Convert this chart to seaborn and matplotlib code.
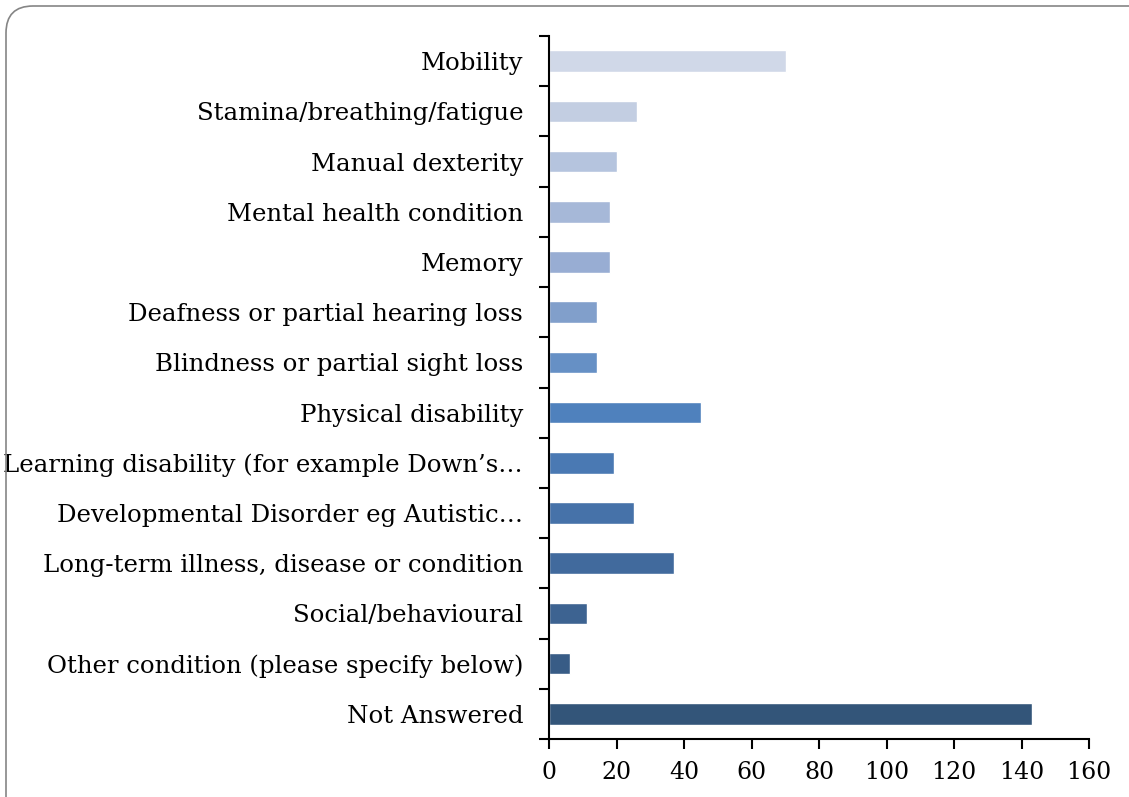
import matplotlib
matplotlib.use('Agg')
import matplotlib.pyplot as plt
import seaborn as sns
import pandas as pd
import numpy as np
from matplotlib.patches import FancyBboxPatch

categories = ['Mobility', 'Stamina/breathing/fatigue', 'Manual dexterity',
              'Mental health condition', 'Memory', 'Deafness or partial hearing loss',
              'Blindness or partial sight loss', 'Physical disability',
              'Learning disability (for example Down’s…',
              'Developmental Disorder eg Autistic…',
              'Long-term illness, disease or condition', 'Social/behavioural',
              'Other condition (please specify below)', 'Not Answered']
counts = [70, 26, 20, 18, 18, 14, 14, 45, 19, 25, 37, 11, 6, 143]
bar_colors = ['#D0D8E8', '#C3CEE2', '#B5C4DE', '#A6B8D8', '#98ADD3', '#819FCB',
              '#6690C5', '#4F81BD', '#4A79B3', '#4672A9', '#416A9D', '#3D6391',
              '#385C86', '#335579']
x_ticks = [0, 20, 40, 60, 80, 100, 120, 140, 160]

sns.set_style('white')
plt.rcParams['font.family'] = ['DejaVu Serif']
plt.rcParams['text.color'] = 'black'
plt.rcParams['xtick.color'] = 'black'
plt.rcParams['ytick.color'] = 'black'

df = pd.DataFrame({'cat': categories, 'n': counts})

fig = plt.figure(figsize=(11.29, 7.97), dpi=100)
ax = fig.add_axes([0.4867, 0.0728, 0.4779, 0.8820])

sns.barplot(data=df, x='n', y='cat', hue='cat', palette=bar_colors,
            order=categories, hue_order=categories, legend=False,
            width=0.43, orient='h', ax=ax, saturation=1)

ax.set_xlim(0, 160)
ax.set_ylim(len(categories) - 0.5, -0.5)
ax.set_xticks(x_ticks)
ax.set_xticklabels([str(v) for v in x_ticks], fontsize=17)

# boundaries get the tick marks, centers get the labels
ax.set_yticks(np.arange(len(categories) + 1) - 0.5)
ax.set_yticklabels([])
ax.set_yticks(np.arange(len(categories)), minor=True)
ax.set_yticklabels(categories, minor=True, fontsize=17.6)
ax.tick_params(axis='y', which='minor', length=0, pad=19)
ax.tick_params(axis='y', which='major', length=7, width=1.5, direction='out', left=True)
ax.tick_params(axis='x', length=7, width=1.5, direction='out', bottom=True, pad=9)

ax.set_xlabel('')
ax.set_ylabel('')
for s in ['top', 'right']:
    ax.spines[s].set_visible(False)
for s in ['left', 'bottom']:
    ax.spines[s].set_color('black')
    ax.spines[s].set_linewidth(1.5)

frame = FancyBboxPatch((0.06, -0.5), 11.6, 8.41,
                       boxstyle='round,pad=0,rounding_size=0.27',
                       transform=fig.dpi_scale_trans, fill=False,
                       edgecolor='#858585', linewidth=1.2, clip_on=False)
fig.patches.append(frame)

fig.savefig('out.png', dpi=100)
